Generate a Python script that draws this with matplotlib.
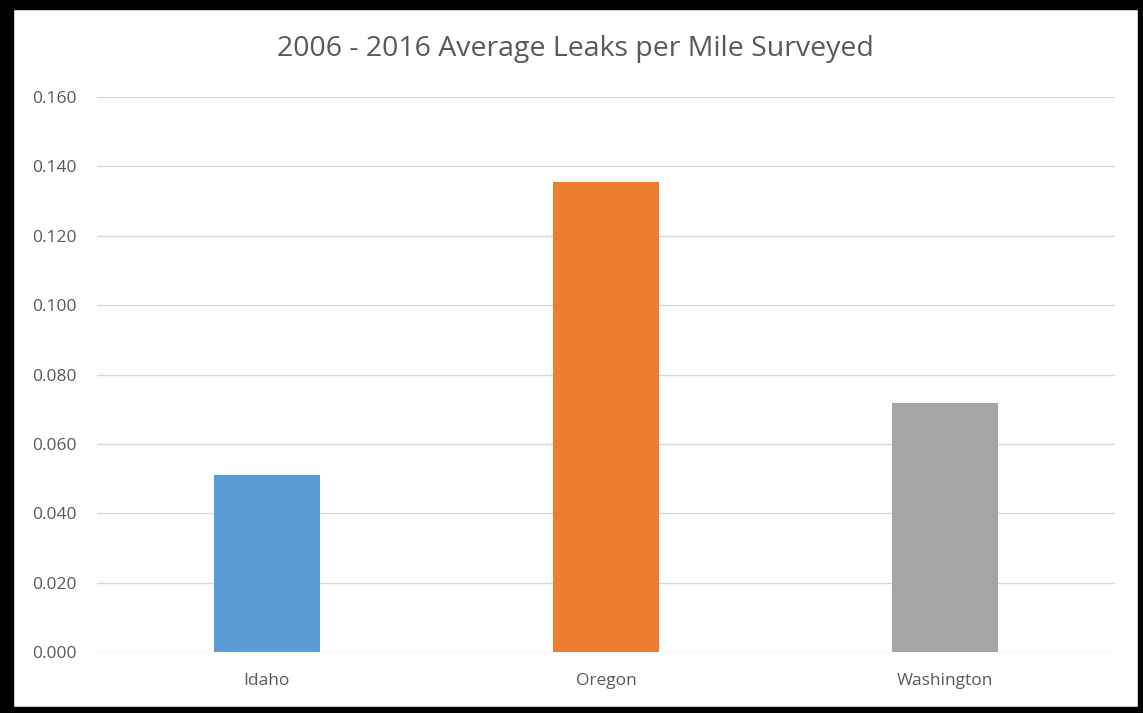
import matplotlib
matplotlib.use("Agg")
import matplotlib.pyplot as plt
from matplotlib.patches import Rectangle

states = ["Idaho", "Oregon", "Washington"]
leaks_per_mile = [0.0511, 0.1354, 0.0717]
bar_colors = ["#5B9BD5", "#ED7D31", "#A5A5A5"]
y_ticks = [0.0, 0.02, 0.04, 0.06, 0.08, 0.10, 0.12, 0.14, 0.16]
title = "2006 - 2016 Average Leaks per Mile Surveyed"

W, H = 1143, 713
fig = plt.figure(figsize=(W / 100, H / 100), dpi=100)
fig.patch.set_facecolor("white")

ax = fig.add_axes([97 / W, 60.7 / H, (1115 - 97) / W, (652.3 - 96.7) / H])
x = list(range(len(states)))
ax.bar(x, leaks_per_mile, width=0.3125, color=bar_colors, zorder=3)

ax.set_xlim(-0.5, len(states) - 0.5)
ax.set_ylim(0, 0.16)
ax.set_yticks(y_ticks)
ax.set_yticklabels([f"{v:.3f}" for v in y_ticks])
ax.set_xticks(x)
ax.set_xticklabels(states)
ax.grid(axis="y", color="#D9D9D9", linewidth=1.0, zorder=0)
for s in ax.spines.values():
    s.set_visible(False)
ax.tick_params(axis="both", length=0, colors="#595959", labelsize=12.5)
ax.tick_params(axis="y", pad=14.4)
ax.tick_params(axis="x", pad=15)
for lbl in ax.get_xticklabels() + ax.get_yticklabels():
    lbl.set_family("Open Sans")

fig.text(575 / W, 1 - 49 / H, title, ha="center", va="center",
         fontsize=20.5, color="#595959", family="Open Sans")

# black frame around the chart
frame = [(0, 0, 13, H), (0, 0, W, 9), (1138, 0, 5, H), (0, 707, W, 6)]
for fx, fy, fw, fh in frame:
    fig.patches.append(Rectangle((fx / W, 1 - (fy + fh) / H), fw / W, fh / H,
                                 transform=fig.transFigure, color="black",
                                 zorder=10))

fig.savefig("out.png", dpi=100)
